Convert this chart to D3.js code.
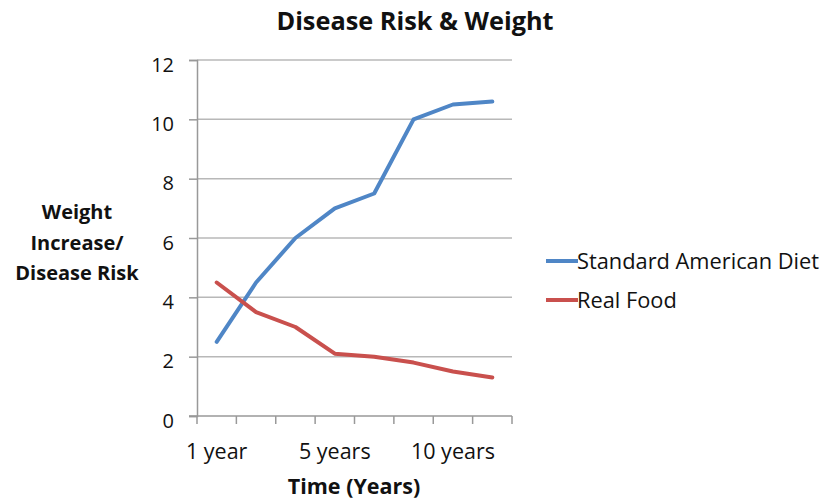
<!DOCTYPE html>
<html>
<head>
<meta charset="utf-8">
<script src="https://cdn.jsdelivr.net/npm/d3@7"></script>
<style>
body { margin: 0; background: #fff; }
text { font-family: "Open Sans", Lato, sans-serif; fill: #111; }
</style>
</head>
<body>
<script>

var categories = ["1 year", "", "", "5 years", "", "", "10 years", ""];
var standardDiet = [2.5, 4.5, 6, 7, 7.5, 10, 10.5, 10.6];
var realFood = [4.5, 3.5, 3, 2.1, 2, 1.8, 1.5, 1.3];
var seriesNames = ["Standard American Diet", "Real Food"];
var yTicks = [0, 2, 4, 6, 8, 10, 12];

var width = 835, height = 501;
var plot = {left: 197, right: 512, top: 60, bottom: 416};

var svg = d3.select("body").append("svg")
    .attr("width", width)
    .attr("height", height);

var xScale = d3.scaleBand().domain(d3.range(categories.length)).range([plot.left, plot.right]);
var yScale = d3.scaleLinear().domain([0, 12]).range([plot.bottom, plot.top]);

// gridlines
svg.append("g")
    .selectAll("line")
    .data(yTicks.filter(function(d){ return d > 0; }))
    .enter().append("line")
    .attr("x1", plot.left)
    .attr("x2", plot.right)
    .attr("y1", function(d){ return yScale(d); })
    .attr("y2", function(d){ return yScale(d); })
    .attr("stroke", "#b8b8b8")
    .attr("stroke-width", 1.5);

// y axis
var yAxis = d3.axisLeft(yScale).tickValues(yTicks).tickSize(8).tickPadding(15);
var gy = svg.append("g")
    .attr("transform", "translate(" + plot.left + ",0)")
    .call(yAxis);
gy.select(".domain").attr("stroke", "#999").attr("stroke-width", 1.5);
gy.selectAll(".tick line").attr("stroke", "#999").attr("stroke-width", 1.5);
gy.selectAll(".tick text")
    .style("font-family", "'Open Sans', Lato, sans-serif")
    .style("font-size", "20px")
    .attr("dy", "0.55em")
    .attr("fill", "#111");

// x axis, ticks on band edges
var gx = svg.append("g");
gx.append("line")
    .attr("x1", plot.left - 8).attr("x2", plot.right)
    .attr("y1", plot.bottom).attr("y2", plot.bottom)
    .attr("stroke", "#999").attr("stroke-width", 1.5);
var edges = d3.range(categories.length + 1).map(function(i){
    return i < categories.length ? xScale(i) : xScale(i - 1) + xScale.bandwidth();
});
gx.selectAll(".xtick")
    .data(edges)
    .enter().append("line")
    .attr("class", "xtick")
    .attr("x1", function(d){ return d; })
    .attr("x2", function(d){ return d; })
    .attr("y1", plot.bottom)
    .attr("y2", plot.bottom + 8)
    .attr("stroke", "#999").attr("stroke-width", 1.5);
gx.selectAll(".xlabel")
    .data(categories)
    .enter().append("text")
    .attr("class", "xlabel")
    .attr("x", function(d, i){ return xScale(i) + xScale.bandwidth() / 2; })
    .attr("y", 459)
    .attr("text-anchor", "middle")
    .style("font-size", "21.5px")
    .text(function(d){ return d; });

// lines
var line = d3.line()
    .x(function(d, i){ return xScale(i) + xScale.bandwidth() / 2; })
    .y(function(d){ return yScale(d); });

var colors = ["#4f86c6", "#c9504d"];
[standardDiet, realFood].forEach(function(s, k){
    svg.append("path")
        .datum(s)
        .attr("d", line)
        .attr("fill", "none")
        .attr("stroke", colors[k])
        .attr("stroke-width", 4)
        .attr("stroke-linejoin", "round")
        .attr("stroke-linecap", "round");
});

// legend
var legend = svg.append("g");
seriesNames.forEach(function(name, k){
    var y = 261 + k * 39;
    legend.append("line")
        .attr("x1", 546).attr("x2", 578)
        .attr("y1", y).attr("y2", y)
        .attr("stroke", colors[k]).attr("stroke-width", 4);
    legend.append("text")
        .attr("x", 577)
        .attr("y", y + 8)
        .style("font-size", "21.8px")
        .text(name);
});

// titles
svg.append("text")
    .attr("x", 415)
    .attr("y", 30)
    .attr("text-anchor", "middle")
    .style("font-size", "25.3px")
    .style("font-weight", "bold")
    .text("Disease Risk & Weight");

svg.append("text")
    .attr("x", 354)
    .attr("y", 494)
    .attr("text-anchor", "middle")
    .style("font-size", "21.5px")
    .style("font-weight", "bold")
    .text("Time (Years)");

var ytitle = ["Weight", "Increase/", "Disease Risk"];
svg.append("g").selectAll("text")
    .data(ytitle)
    .enter().append("text")
    .attr("x", 77)
    .attr("y", function(d, i){ return 219 + i * 30.5; })
    .attr("text-anchor", "middle")
    .style("font-size", "20px")
    .style("font-weight", "bold")
    .text(function(d){ return d; });

</script>
</body>
</html>
